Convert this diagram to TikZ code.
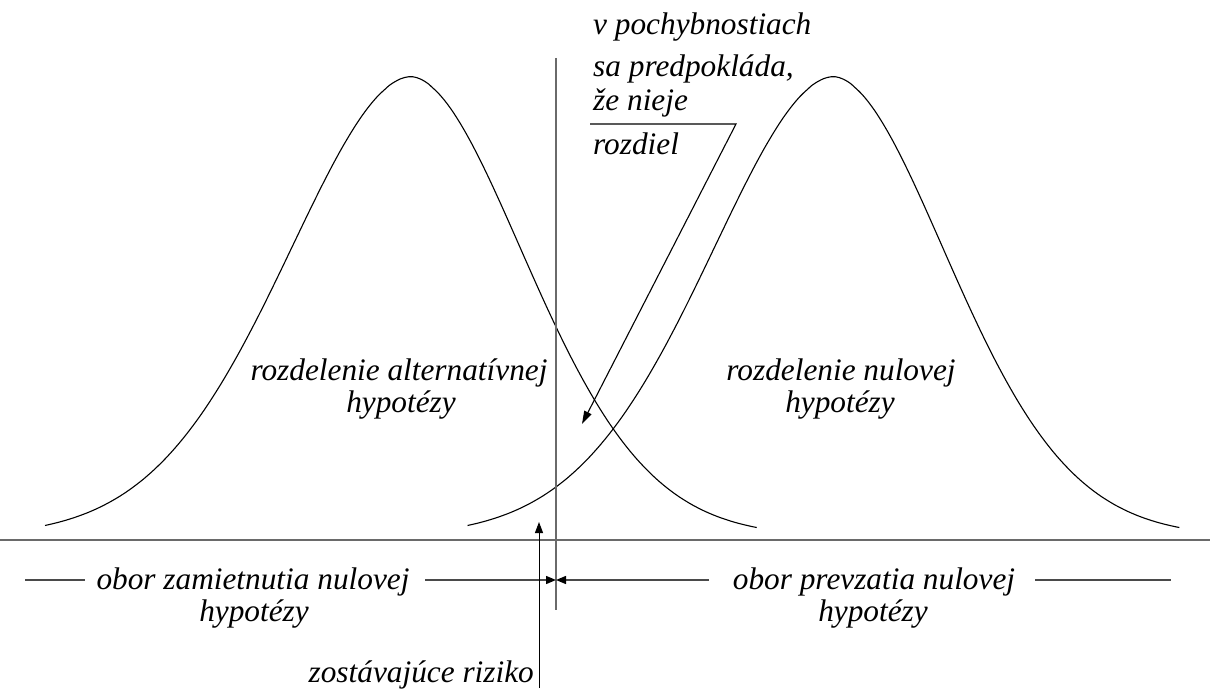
\documentclass[tikz,border=0pt]{standalone}
\usepackage{fontspec}
\setmainfont{Liberation Serif}
\usetikzlibrary{arrows.meta}
\definecolor{axisgray}{HTML}{6A6A6A}
\definecolor{linegray}{HTML}{4A4A4A}
\tikzset{
  bell/.style={line width=1.1pt, black},
  axisline/.style={line width=1.6pt, axisgray},
  hline/.style={line width=1.4pt, linegray},
  lbl/.style={font=\fontsize{31.3}{34}\selectfont\itshape, inner sep=0pt, anchor=base},
  lblw/.style={lbl, anchor=base west},
  lble/.style={lbl, anchor=base east},
  tipline/.style={line width=1.1pt, black, -{Triangle[length=13pt,width=8pt]}},
  bowtip/.style={-{Triangle[length=10pt,width=8pt,color=black]}},
}
\begin{document}
\begin{tikzpicture}[x=1pt,y=-1pt]
\path[use as bounding box] (0,0) rectangle (1210,695);

% the two distributions
\foreach \mu in {410.7,833.3}{
  \draw[bell, xshift=\mu pt] plot[domain=-365.7:346, samples=181, smooth]
    (\x,{76.7+460*(1-exp(-1*pow(max(abs(\x),0.01)/(\x<0 ? 180 : 165.6),1.85)))});
}

% axis and decision line
\coordinate (b0) at (0,540);
\coordinate (b1) at (1210,540);
\coordinate (vtop) at (556,58);
\coordinate (vbot) at (556,610);
\draw[axisline] (b0) -- (b1);
\draw[axisline] (vtop) -- (vbot);

% top annotation
\node[lblw] (t1) at (593,35) {v pochybnostiach};
\node[lblw] (t2) at (593,77) {sa predpokláda,};
\node[lblw] (t3) at (593,111) {že nieje};
\node[lblw] (t4) at (593,155) {rozdiel};
\coordinate (ul0) at (590,124);
\coordinate (ul1) at (736,124);
\coordinate (tipA) at (582,424);
\draw[tipline] (ul0) -- (ul1) -- (tipA);

% distribution labels
\node[lbl] (alt1) at (399,380) {rozdelenie alternatívnej};
\node[lbl] (alt2) at (401,412) {hypotézy};
\node[lbl] (nul1) at (841,380) {rozdelenie nulovej};
\node[lbl] (nul2) at (840,412) {hypotézy};

% regions
\node[lbl] (rej1) at (253,589) {obor zamietnutia nulovej};
\node[lbl] (rej2) at (254,621) {hypotézy};
\node[lbl] (acc1) at (874,589) {obor prevzatia nulovej};
\node[lbl] (acc2) at (873,621) {hypotézy};

\coordinate (la0) at (25,580);
\coordinate (la1) at (85,580);
\coordinate (la2) at (425,580);
\coordinate (mid) at (556,580);
\coordinate (ra2) at (709,580);
\coordinate (ra0) at (1035,580);
\coordinate (ra1) at (1171,580);
\draw[hline] (la0) -- (la1);
\draw[hline] (ra0) -- (ra1);
\draw[hline, bowtip] (la2) -- (mid);
\draw[hline, bowtip] (ra2) -- (mid);

% residual risk
\node[lble] (risk) at (534,682) {zostávajúce riziko};
\coordinate (rk0) at (539,688);
\coordinate (rk1) at (539,522);
\draw[line width=1pt, -{Triangle[length=11pt,width=8pt]}] (rk0) -- (rk1);
\end{tikzpicture}
\end{document}
